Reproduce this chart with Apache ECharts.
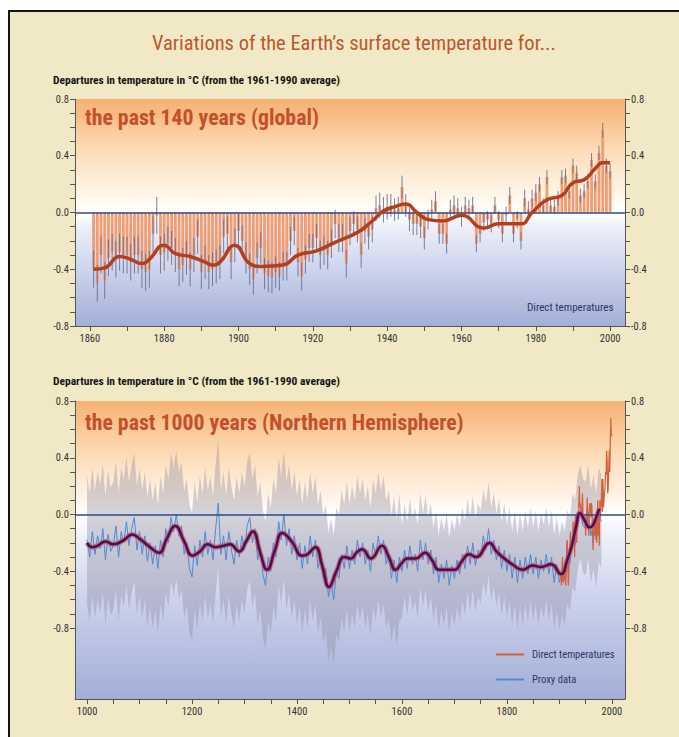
<!DOCTYPE html>
<html><head><meta charset="utf-8">
<script src="https://cdn.jsdelivr.net/npm/echarts@6/dist/echarts.min.js"></script>
<style>html,body{margin:0;padding:0;background:#fff;}#c{width:679px;height:737px;}</style>
</head><body><div id="c"></div>
<script>
const NARROW = "'Liberation Sans Narrow','Arial Narrow','Roboto Condensed','Liberation Sans',sans-serif";

// ---------- Top panel: global, past 140 years ----------
const globalStartYear = 1861;
const globalAnomaly = [
 -0.40,-0.50,-0.30,-0.48,-0.32,-0.28,-0.33,-0.28,-0.30,-0.30,
 -0.35,-0.30,-0.30,-0.40,-0.42,-0.40,-0.15,-0.02,-0.30,-0.28,
 -0.22,-0.25,-0.30,-0.40,-0.37,-0.32,-0.40,-0.30,-0.17,-0.42,
 -0.35,-0.42,-0.40,-0.38,-0.35,-0.17,-0.15,-0.35,-0.23,-0.13,
 -0.20,-0.32,-0.40,-0.47,-0.32,-0.25,-0.43,-0.45,-0.46,-0.42,
 -0.45,-0.38,-0.38,-0.20,-0.13,-0.35,-0.45,-0.33,-0.25,-0.25,
 -0.18,-0.30,-0.27,-0.30,-0.22,-0.08,-0.18,-0.18,-0.36,-0.13,
 -0.08,-0.12,-0.30,-0.13,-0.17,-0.12,0.03,0.05,0.02,0.04,
 0.05,0.02,0.03,0.18,0.05,-0.05,-0.08,-0.08,-0.10,-0.18,
 -0.05,0.02,0.08,-0.15,-0.15,-0.22,0.02,0.05,0.03,-0.03,
 0.05,0.03,0.05,-0.22,-0.15,-0.07,-0.05,-0.08,0.05,-0.05,
 -0.15,-0.02,0.12,-0.15,-0.05,-0.20,0.10,0.02,0.10,0.14,
 0.20,0.05,0.25,0.05,0.04,0.10,0.25,0.26,0.15,0.33,
 0.28,0.12,0.15,0.22,0.37,0.22,0.42,0.58,0.33,0.29
];
// half-width of the error bars, one value per decade (1861-70, 1871-80, ...)
const globalErrorByDecade = [0.13,0.13,0.12,0.12,0.11,0.10,0.10,0.09,0.08,0.07,0.06,0.06,0.05,0.05];
const globalSmoothYears  = [1861,1864,1868,1871,1874,1876,1880,1883,1887,1891,1893,1895,1899,1903,1906,1912,1916,1921,1926,1932,1936,1939,1942,1945,1948,1951,1955,1960,1966,1970,1976,1979,1983,1987,1990,1993,1996,1998,2000];
const globalSmoothValues = [-0.40,-0.39,-0.31,-0.33,-0.36,-0.33,-0.23,-0.29,-0.31,-0.35,-0.37,-0.35,-0.23,-0.36,-0.38,-0.37,-0.30,-0.27,-0.21,-0.14,-0.06,0.01,0.04,0.06,0.00,-0.05,-0.06,-0.02,-0.11,-0.08,-0.08,0.00,0.09,0.12,0.21,0.23,0.31,0.35,0.35];
const globalXTicks  = [1860,1870,1880,1890,1900,1910,1920,1930,1940,1950,1960,1970,1980,1990,2000];
const globalXLabels = [1860,1880,1900,1920,1940,1960,1980,2000];

// ---------- Bottom panel: Northern Hemisphere, past 1000 years ----------
const proxyStartYear = 1000;
const proxyStepYears = 5;
const proxyValues = [
 -0.18,-0.30,-0.12,-0.28,-0.15,-0.24,-0.10,-0.32,-0.14,-0.26,
 -0.22,-0.08,-0.30,-0.12,-0.20,-0.05,-0.22,-0.10,-0.02,-0.25,
 -0.12,-0.28,-0.15,-0.33,-0.20,-0.35,-0.22,-0.38,-0.18,-0.30,
 -0.10,-0.20,-0.02,-0.12,0.00,-0.15,-0.08,-0.28,-0.20,-0.38,
 -0.44,-0.22,-0.36,-0.18,-0.30,-0.12,-0.28,-0.18,-0.32,-0.10,
 0.08,-0.28,-0.15,-0.32,-0.12,-0.25,-0.35,-0.18,-0.30,-0.15,
 -0.25,-0.08,-0.02,-0.20,-0.10,-0.32,-0.22,-0.42,-0.50,-0.30,
 -0.40,-0.20,-0.30,-0.05,-0.18,0.00,-0.22,-0.10,-0.28,-0.15,
 -0.32,-0.20,-0.38,-0.22,-0.35,-0.15,-0.30,-0.18,-0.38,-0.28,
 -0.45,-0.38,-0.58,-0.48,-0.60,-0.40,-0.45,-0.28,-0.38,-0.22,
 -0.38,-0.25,-0.35,-0.18,-0.30,-0.20,-0.35,-0.25,-0.40,-0.20,
 -0.30,-0.15,-0.28,-0.18,-0.35,-0.28,-0.45,-0.32,-0.48,-0.30,
 -0.40,-0.25,-0.38,-0.22,-0.35,-0.28,-0.40,-0.18,-0.32,-0.20,
 -0.35,-0.25,-0.42,-0.30,-0.48,-0.35,-0.45,-0.32,-0.50,-0.36,
 -0.45,-0.32,-0.42,-0.28,-0.38,-0.22,-0.35,-0.20,-0.36,-0.25,
 -0.30,-0.15,-0.25,-0.10,-0.28,-0.18,-0.32,-0.22,-0.38,-0.25,
 -0.40,-0.28,-0.45,-0.30,-0.48,-0.32,-0.45,-0.30,-0.42,-0.28,
 -0.42,-0.30,-0.45,-0.32,-0.40,-0.28,-0.42,-0.30,-0.48,-0.35,
 -0.48,-0.38,-0.45,-0.30,-0.35,-0.18,-0.22,-0.05,0.02,-0.08,
 -0.10,0.02,-0.15,-0.05,-0.18,0.00,-0.05
];
// two-sigma uncertainty half-width of the reconstruction, by period
const proxyUncertaintyFrom = [1000, 1600];
const proxyUncertaintyHalf = [0.45, 0.33];
const nhSmoothYears  = [1000,1010,1020,1035,1050,1070,1086,1100,1120,1137,1152,1168,1185,1201,1215,1230,1245,1260,1272,1290,1303,1316,1330,1343,1358,1372,1390,1410,1420,1435,1448,1461,1475,1490,1503,1513,1524,1541,1562,1575,1588,1600,1610,1626,1644,1657,1671,1700,1714,1728,1741,1767,1780,1795,1810,1830,1849,1865,1884,1903,1915,1925,1932,1939,1948,1957,1963,1970,1976];
const nhSmoothValues = [-0.20,-0.23,-0.22,-0.19,-0.21,-0.18,-0.14,-0.17,-0.23,-0.27,-0.17,-0.08,-0.19,-0.29,-0.26,-0.21,-0.23,-0.22,-0.21,-0.26,-0.19,-0.12,-0.27,-0.39,-0.25,-0.13,-0.19,-0.29,-0.28,-0.23,-0.36,-0.51,-0.40,-0.30,-0.31,-0.27,-0.245,-0.31,-0.22,-0.30,-0.39,-0.34,-0.31,-0.31,-0.27,-0.32,-0.39,-0.39,-0.33,-0.28,-0.30,-0.20,-0.26,-0.31,-0.35,-0.39,-0.36,-0.37,-0.35,-0.42,-0.32,-0.20,-0.08,0.01,-0.04,-0.09,-0.08,-0.02,0.04];
const directNHStartYear = 1902;
const directNHValues = [
 -0.40,-0.45,-0.50,-0.38,-0.30,-0.48,-0.48,-0.45,
 -0.42,-0.45,-0.50,-0.40,-0.20,-0.18,-0.35,-0.50,-0.40,-0.28,
 -0.25,-0.12,-0.25,-0.20,-0.25,-0.15,-0.05,-0.12,-0.10,-0.30,
 -0.05,0.00,-0.05,-0.20,-0.02,-0.08,-0.05,0.08,0.20,0.05,
 0.08,0.02,0.00,0.05,0.15,-0.02,-0.05,0.00,-0.02,-0.05,
 -0.15,-0.05,0.02,0.12,-0.05,-0.10,-0.15,0.05,0.08,0.05,
 -0.02,0.08,0.05,0.05,-0.25,-0.18,-0.10,-0.08,-0.15,0.00,
 -0.05,-0.20,-0.10,0.10,-0.15,-0.05,-0.22,0.10,-0.02,0.05,
 0.12,0.25,0.02,0.25,0.05,0.05,0.15,0.20,0.30,0.28,
 0.45,0.38,0.15,0.18,0.32,0.45,0.30,0.50,0.68,0.55
];
const nhXTicks  = [1000,1050,1100,1150,1200,1250,1300,1350,1400,1450,1500,1550,1600,1650,1700,1750,1800,1850,1900,1950,2000];
const nhXLabels = [1000,1200,1400,1600,1800,2000];

const yTickValues  = [-0.8,-0.7,-0.6,-0.5,-0.4,-0.3,-0.2,-0.1,0,0.1,0.2,0.3,0.4,0.5,0.6,0.7,0.8];
const yLabelValues = [-0.8,-0.4,0,0.4,0.8];

// ---------- build ----------
const globalBars = globalAnomaly.map((v,i)=>[globalStartYear+i, v]);
const globalErr = globalAnomaly.map((v,i)=>{const e=globalErrorByDecade[Math.floor(i/10)];return [globalStartYear+i, v-e, v+e];});
const globalSmooth = globalSmoothYears.map((y,i)=>[y, globalSmoothValues[i]]);
const proxyYears = proxyValues.map((v,i)=>proxyStartYear+i*proxyStepYears);
function halfWidth(y){let h=proxyUncertaintyHalf[0];proxyUncertaintyFrom.forEach((f,i)=>{if(y>=f)h=proxyUncertaintyHalf[i];});return h;}
const proxyLine = proxyValues.map((v,i)=>[proxyYears[i], v]);
const bandData = proxyValues.map((v,i)=>[proxyYears[i], v-halfWidth(proxyYears[i]), v+halfWidth(proxyYears[i])]);
const directNH = directNHValues.map((v,i)=>[directNHStartYear+i, v]);
const nhSmooth = nhSmoothYears.map((y,i)=>[y, nhSmoothValues[i]]);

const G = echarts.graphic.LinearGradient;
const topBg = new G(0,0,0,1,[
 {offset:0,color:'#f6b274'},{offset:0.08,color:'#f8bd84'},{offset:0.13,color:'#fac99a'},
 {offset:0.22,color:'#fcdbb6'},{offset:0.33,color:'#fdead2'},{offset:0.43,color:'#fff6ea'},{offset:0.5,color:'#ffffff'},
 {offset:0.58,color:'#eaedf7'},{offset:0.78,color:'#c8cfea'},{offset:1,color:'#a4afd8'}]);
const botBg = new G(0,0,0,1,[
 {offset:0,color:'#f6b274'},{offset:0.06,color:'#f8bf88'},{offset:0.12,color:'#fbcfa2'},
 {offset:0.22,color:'#fde2c4'},{offset:0.32,color:'#fff3e6'},{offset:0.38,color:'#ffffff'},{offset:0.46,color:'#edf0f8'},
 {offset:0.66,color:'#ccd3ec'},{offset:1,color:'#a3aed7'}]);

const axisColor = '#555';
function yAx(gridIndex, position, min, max){
  return {type:'value', gridIndex, position, min, max,
    axisLine:{show:true,onZero:false,lineStyle:{color:axisColor,width:1}},
    axisTick:{show:true,inside:false,length:5,customValues:yTickValues,lineStyle:{color:axisColor}},
    axisLabel:{customValues:yLabelValues,formatter:v=>v.toFixed(1),fontSize:10.5,color:'#333',fontFamily:NARROW,margin:6},
    splitLine:{show:false}};
}
function xAx(gridIndex, min, max, ticks, labels){
  return {type:'value', gridIndex, min, max,
    axisLine:{show:true,onZero:false,lineStyle:{color:axisColor,width:1}},
    axisTick:{show:true,length:5,customValues:ticks,lineStyle:{color:axisColor}},
    axisLabel:{customValues:labels,fontSize:10.5,color:'#333',fontFamily:NARROW,margin:7,formatter:v=>String(v)},
    splitLine:{show:false}};
}
const zeroLine = {silent:true,symbol:['none','none'],label:{show:false},lineStyle:{color:'#2b4a8a',width:1.6,type:'solid'},data:[{yAxis:0}]};
const legendIcon = 'path://M0,0H28V2H0Z';

const chart = echarts.init(document.getElementById('c'), null, {renderer:'svg'});
chart.setOption({
  animation:false,
  backgroundColor:'#ffffff',
  graphic:[{type:'rect',z:-100,silent:true,shape:{x:9,y:11,width:720,height:760},style:{fill:'#f1e9c6',stroke:'#161616',lineWidth:2}}],
  title:[
    {text:'Variations of the Earth\u2019s surface temperature for...',left:152,top:32,padding:0,textStyle:{fontSize:20.5,fontWeight:'normal',color:'#c0562c',fontFamily:NARROW}},
    {text:'Departures in temperature in \u00b0C (from the 1961-1990 average)',left:53,top:74,padding:0,textStyle:{fontSize:11.5,fontWeight:'bold',color:'#151515',fontFamily:NARROW}},
    {text:'the past 140 years (global)',left:85,top:106,padding:0,textStyle:{fontSize:21.8,fontWeight:'bold',color:'#c4502a',fontFamily:NARROW}},
    {text:'Direct temperatures',left:527,top:302,padding:0,textStyle:{fontSize:11.1,fontWeight:'normal',color:'#2b3766',fontFamily:NARROW}},
    {text:'Departures in temperature in \u00b0C (from the 1961-1990 average)',left:53,top:375,padding:0,textStyle:{fontSize:11.5,fontWeight:'bold',color:'#151515',fontFamily:NARROW}},
    {text:'the past 1000 years (Northern Hemisphere)',left:85,top:411,padding:0,textStyle:{fontSize:21.8,fontWeight:'bold',color:'#c4502a',fontFamily:NARROW}}
  ],
  legend:{show:true,selectedMode:false,orient:'vertical',left:491,top:644,itemWidth:28,itemHeight:14,itemGap:14,
    data:[{name:'Direct temperatures',icon:legendIcon},{name:'Proxy data',icon:legendIcon}],
    textStyle:{fontSize:10.6,color:'#2b3766',fontFamily:NARROW,padding:[0,0,0,3]}},
  grid:[
    {left:75,right:54,top:99,bottom:411,show:true,backgroundColor:topBg,borderWidth:0},
    {left:75,right:54,top:401,bottom:38,show:true,backgroundColor:botBg,borderWidth:0}
  ],
  xAxis:[ xAx(0,1856,2004,globalXTicks,globalXLabels), xAx(1,977,2025,nhXTicks,nhXLabels) ],
  yAxis:[ yAx(0,'left',-0.8,0.8), yAx(0,'right',-0.8,0.8), yAx(1,'left',-1.3,0.8), yAx(1,'right',-1.3,0.8) ],
  series:[
    {type:'bar',name:'Global annual',xAxisIndex:0,yAxisIndex:0,data:globalBars,barWidth:2.8,itemStyle:{color:'#f29c74'},silent:true,z:2},
    {type:'custom',name:'Global error',xAxisIndex:0,yAxisIndex:0,data:globalErr,encode:{x:0,y:[1,2]},silent:true,z:3,
      renderItem:(params,api)=>{const a=api.coord([api.value(0),api.value(1)]);const b=api.coord([api.value(0),api.value(2)]);
        return {type:'line',shape:{x1:a[0],y1:a[1],x2:b[0],y2:b[1]},style:{stroke:'rgba(100,108,140,0.85)',lineWidth:1}};},
      markLine:zeroLine},
    {type:'line',name:'Global smoothed',xAxisIndex:0,yAxisIndex:0,data:globalSmooth,smooth:0.5,symbol:'none',silent:true,z:6,
      lineStyle:{color:'#b43e1e',width:3.5}},

    {type:'custom',name:'Uncertainty band',xAxisIndex:1,yAxisIndex:2,data:bandData,encode:{x:0,y:[1,2]},silent:true,z:2,
      renderItem:(params,api)=>{
        if(params.dataIndex!==0) return null;
        const upper=bandData.map(d=>api.coord([d[0],d[2]]));
        const lower=bandData.map(d=>api.coord([d[0],d[1]])).reverse();
        return {type:'polygon',shape:{points:upper.concat(lower)},style:{fill:'rgba(145,140,158,0.38)'}};
      }},
    {type:'line',name:'Proxy data',xAxisIndex:1,yAxisIndex:2,data:proxyLine,symbol:'none',silent:true,z:3,
      itemStyle:{color:'#4f8ad0'},lineStyle:{color:'#4f8ad0',width:1}},
    {type:'line',name:'Direct temperatures',xAxisIndex:1,yAxisIndex:2,data:directNH,symbol:'none',silent:true,z:4,
      itemStyle:{color:'#d4603a'},lineStyle:{color:'#d4603a',width:1.2},markLine:zeroLine},
    {type:'line',name:'NH smoothed halo',xAxisIndex:1,yAxisIndex:2,data:nhSmooth,smooth:0.5,symbol:'none',silent:true,z:6,
      lineStyle:{color:'rgba(196,80,120,0.75)',width:5}},
    {type:'line',name:'NH smoothed',xAxisIndex:1,yAxisIndex:2,data:nhSmooth,smooth:0.5,symbol:'none',silent:true,z:7,
      lineStyle:{color:'#4d1149',width:2.5}}
  ]
});
</script></body></html>
